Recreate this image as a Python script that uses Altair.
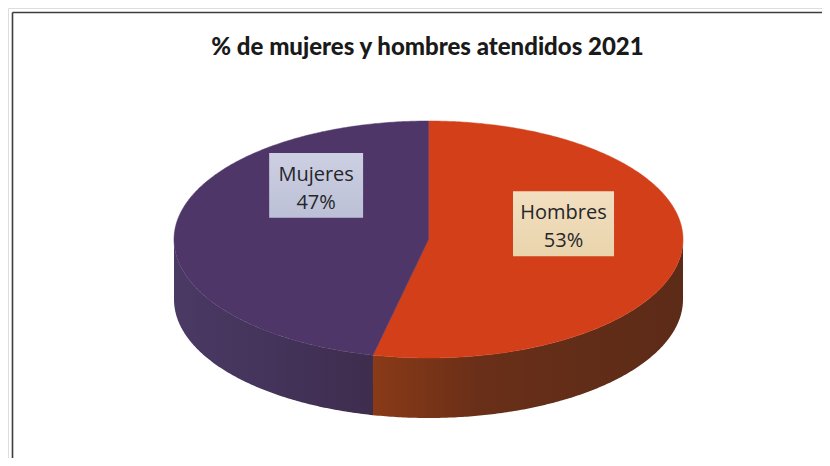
import numpy as np
import altair as alt

categories = ["Hombres", "Mujeres"]
shares = [53.5, 46.5]
share_labels = ["53%", "47%"]
top_colors = ["#d23f18", "#4f3668"]
side_stops = [["#8a3a17", "#6a2f18", "#622d18", "#5c2b18"], ["#4a3a64", "#44335a", "#3f2d4e"]]
box_stops = [["#f2dfc0", "#e9d4ac"], ["#cdd0e2", "#bcc0d6"]]

TITLE = "% de mujeres y hombres atendidos 2021"
RATIO = 118.5 / 254.5
DEPTH = 60 / 254.5
label_boxes = {"Hombres": (0.332, -0.19, 0.397, 0.256), "Mujeres": (-0.626, -0.34, 0.369, 0.255)}


def pt(theta, dy=0.0):
    return [float(np.sin(theta)), float(-RATIO * np.cos(theta) + dy)]


def arc(a, b, dy=0.0):
    n = max(2, int(abs(b - a) / 0.01))
    return [pt(t, dy) for t in np.linspace(a, b, n)]


def feature(ring):
    ring = ring + [ring[0]]
    return {"type": "Feature", "properties": {}, "geometry": {"type": "Polygon", "coordinates": [ring]}}


proj = alt.Projection(type="identity", scale=254.5, translate=[420.5, 231.5])
layers = []

# frame
layers.append(alt.Chart(alt.Data(values=[{"a": 1}])).mark_rule(color="#3c3c3c", strokeWidth=1.6).encode(
    x=alt.value(4.5), y=alt.value(4.5), y2=alt.value(450)))
layers.append(alt.Chart(alt.Data(values=[{"a": 1}])).mark_rule(color="#3c3c3c", strokeWidth=1.6).encode(
    x=alt.value(4.5), x2=alt.value(814), y=alt.value(4.5)))

bounds = np.cumsum([0] + shares) / sum(shares) * 2 * np.pi
vis_a, vis_b = np.pi / 2, 3 * np.pi / 2

# pie walls
for i in range(len(categories)):
    a, b = max(bounds[i], vis_a), min(bounds[i + 1], vis_b)
    ring = arc(a, b) + arc(b, a, DEPTH)
    stops = side_stops[i]
    grad = alt.Gradient(
        gradient="linear", x1=0, x2=1, y1=0, y2=0,
        stops=[alt.GradientStop(color=c, offset=k / (len(stops) - 1)) for k, c in enumerate(stops)],
    )
    layers.append(alt.Chart(alt.Data(values=[feature(ring)])).mark_geoshape(
        fill=grad, stroke=None).project(**proj.to_dict()))

# pie top
for i in range(len(categories)):
    a, b = bounds[i], bounds[i + 1]
    ring = [[0.0, 0.0]] + arc(a, b)
    layers.append(alt.Chart(alt.Data(values=[feature(ring)])).mark_geoshape(
        fill=top_colors[i], stroke=top_colors[i], strokeWidth=0.5).project(**proj.to_dict()))

# label boxes and text
for i, cat in enumerate(categories):
    x0, y0, w, h = label_boxes[cat]
    ring = [[x0, y0], [x0 + w, y0], [x0 + w, y0 + h], [x0, y0 + h]]
    grad = alt.Gradient(
        gradient="linear", x1=0, x2=0, y1=0, y2=1,
        stops=[alt.GradientStop(color=box_stops[i][0], offset=0), alt.GradientStop(color=box_stops[i][1], offset=1)],
    )
    layers.append(alt.Chart(alt.Data(values=[feature(ring)])).mark_geoshape(
        fill=grad, stroke=None).project(**proj.to_dict()))
    rows = [
        {"t": cat, "lon": x0 + w / 2, "lat": y0 + h * 0.34},
        {"t": share_labels[i], "lon": x0 + w / 2, "lat": y0 + h * 0.77},
    ]
    layers.append(alt.Chart(alt.Data(values=rows)).mark_text(
        font="Open Sans", fontSize=20, color="#25262b", align="center", baseline="middle"
    ).encode(
        longitude=alt.Longitude("lon:Q"), latitude=alt.Latitude("lat:Q"), text="t:N"
    ).project(**proj.to_dict()))

# title
layers.append(alt.Chart(alt.Data(values=[{"t": TITLE}])).mark_text(
    font="Lato", fontSize=24, fontWeight=900, color="#1a1a1a", align="center", baseline="middle"
).encode(x=alt.value(419.5), y=alt.value(40), text="t:N"))

chart = alt.layer(*layers).properties(
    width=814, height=450, padding=0, autosize=alt.AutoSizeParams(type="none"),
).configure_view(stroke=None).configure(background="#ffffff")

chart.save("out.html", embed_options={"renderer": "svg", "actions": False})
